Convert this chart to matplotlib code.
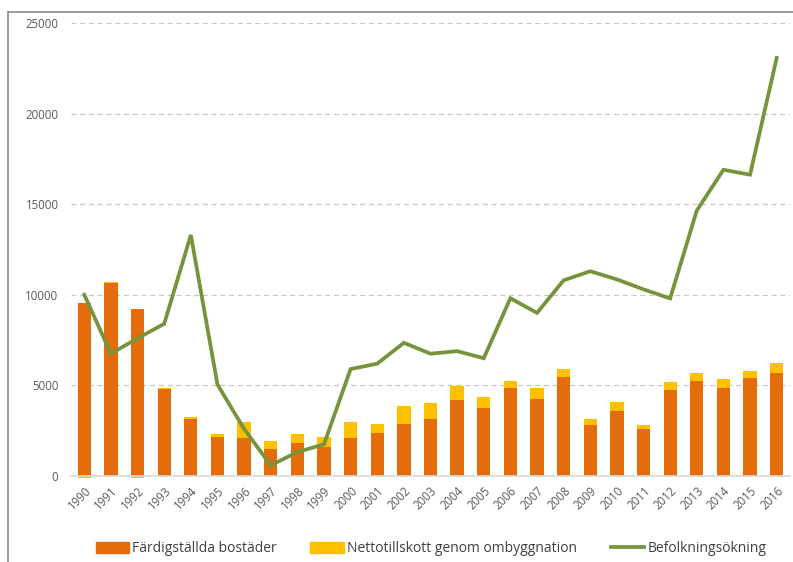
import matplotlib
matplotlib.use("Agg")
import matplotlib.pyplot as plt
from matplotlib.lines import Line2D
import numpy as np

years = [str(y) for y in range(1990, 2017)]
fardigstallda = [9560, 10640, 9190, 4800, 3160, 2150, 2100, 1470, 1800, 1600,
                 2080, 2370, 2850, 3130, 4210, 3730, 4850, 4270, 5460, 2830,
                 3570, 2610, 4740, 5240, 4830, 5390, 5680]
ombyggnation = [-120, 60, -110, 75, 110, 150, 860, 460, 510, 530,
                920, 520, 1010, 890, 770, 610, 370, 600, 440, 310,
                490, 200, 440, 420, 500, 380, 530]
befolkning = [10000, 6750, 7600, 8400, 13300, 5050, 2600, 590, 1320, 1750,
              5900, 6200, 7350, 6750, 6890, 6500, 9810, 9000, 10800, 11300,
              10850, 10300, 9800, 14650, 16900, 16630, 23070]
yticks = [0, 5000, 10000, 15000, 20000, 25000]

c_orange = "#E46C0A"
c_yellow = "#FFC000"
c_green = "#77933C"
c_text = "#595959"

plt.rcParams['font.family'] = ['Open Sans', 'DejaVu Sans']

fig = plt.figure(figsize=(7.93, 5.62), dpi=100)
W, H = 793, 562
ax = fig.add_axes([71 / W, (H - 476) / H, (790 - 71) / W, (476 - 23) / H])

x = np.arange(len(years))
f = np.array(fardigstallda)
o = np.array(ombyggnation)
bottoms = np.where(o >= 0, f, 0)
ax.bar(x, f, width=0.5, color=c_orange, zorder=2, label="Färdigställda bostäder")
ax.bar(x, o, width=0.5, bottom=bottoms, color=c_yellow, zorder=2, clip_on=False,
       label="Nettotillskott genom ombyggnation")
ax.plot(x, befolkning, color=c_green, linewidth=2.7, zorder=3,
        solid_joinstyle='miter', label="Befolkningsökning")

ax.set_xlim(-0.5, len(years) - 0.5)
ax.set_ylim(0, 25000)
ax.set_yticks(yticks)
ax.set_yticklabels([str(v) for v in yticks], color=c_text, fontsize=8.3)
ax.set_xticks(x)
ax.set_xticklabels(years, rotation=45, ha='right', rotation_mode='anchor',
                   color=c_text, fontsize=8.3)
ax.tick_params(axis='both', length=0)
ax.tick_params(axis='y', pad=9)
ax.tick_params(axis='x', pad=6)
for s in ['top', 'right', 'left']:
    ax.spines[s].set_visible(False)
ax.spines['bottom'].set_color('#D9D9D9')
ax.spines['bottom'].set_linewidth(1.2)
ax.yaxis.grid(True, linestyle=(0, (4, 3)), color='#C8C8C8', linewidth=0.9, zorder=0)
ax.set_axisbelow(True)

handles = [
    plt.Rectangle((0, 0), 1, 1, color=c_orange),
    plt.Rectangle((0, 0), 1, 1, color=c_yellow),
    Line2D([0], [0], color=c_green, linewidth=2.7),
]
labels = ["Färdigställda bostäder", "Nettotillskott genom ombyggnation", "Befolkningsökning"]
fig.legend(handles, labels, loc='center', bbox_to_anchor=(431 / W, 1 - 549 / H),
           ncol=3, frameon=False, fontsize=10, handlelength=2.4, handleheight=0.8,
           handletextpad=0.25, columnspacing=2.4, labelcolor='#404040')

# outer frame (left and top edges visible)
fig.add_artist(Line2D([7.5 / W, 7.5 / W], [0, 1 - 12 / H], transform=fig.transFigure,
                      color='#8C8C8C', linewidth=1.2))
fig.add_artist(Line2D([7.5 / W, 1], [1 - 12 / H, 1 - 12 / H], transform=fig.transFigure,
                      color='#8C8C8C', linewidth=1.2))

fig.savefig("out.png", dpi=100)
